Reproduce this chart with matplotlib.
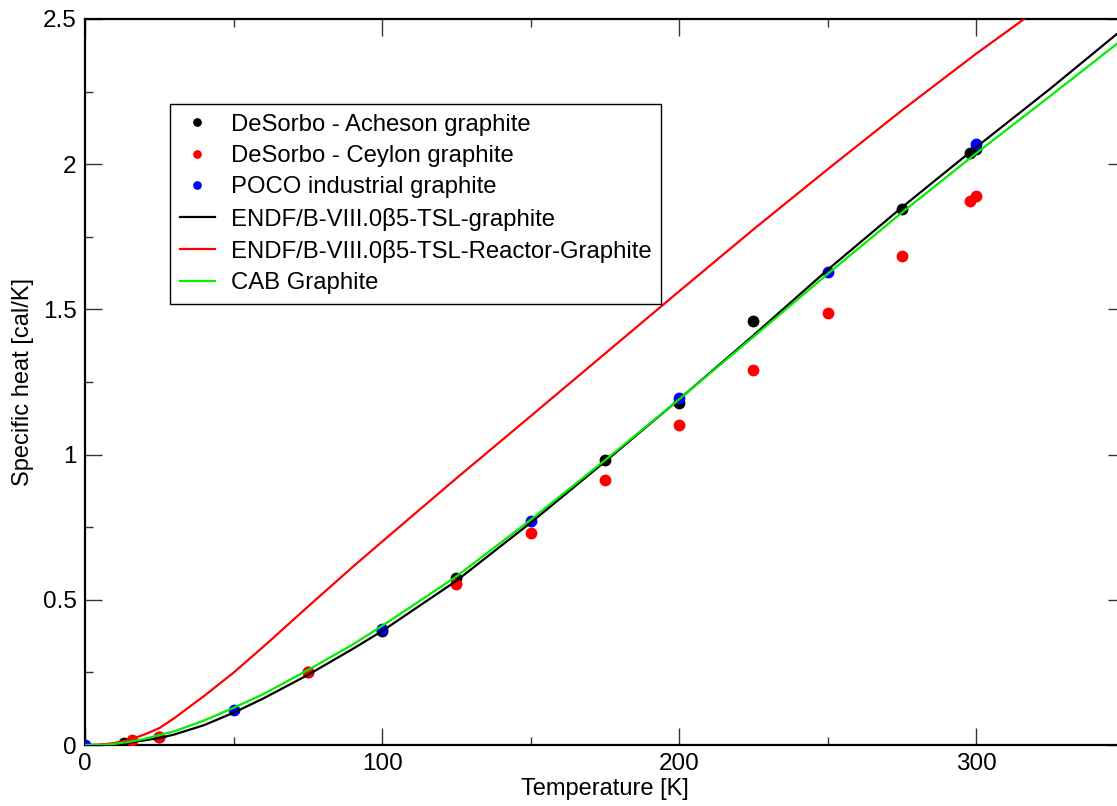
import numpy as np
import matplotlib
matplotlib.use('Agg')
import matplotlib.pyplot as plt
from matplotlib.ticker import MultipleLocator

plt.rcParams['font.family'] = ['Liberation Sans', 'DejaVu Sans']

# measured points
acheson_T = [13, 25, 75, 100, 125, 175, 200, 225, 275, 298, 300]
acheson_cp = [0.008, 0.026, 0.25, 0.394, 0.574, 0.981, 1.177, 1.461, 1.845, 2.040, 2.051]

ceylon_T = [15.7, 25, 75, 125, 150, 175, 200, 225, 250, 275, 298, 300]
ceylon_cp = [0.016, 0.028, 0.251, 0.554, 0.729, 0.912, 1.102, 1.291, 1.487, 1.684, 1.874, 1.889]

poco_T = [0, 50, 100, 150, 200, 250, 300]
poco_cp = [0.0, 0.12, 0.40, 0.772, 1.194, 1.629, 2.069]

# evaluated curves
curve_T = [0, 5, 10, 15, 20, 25, 30, 40, 50, 60, 75, 90, 100, 125, 150,
           175, 200, 225, 250, 275, 300, 325, 350]
endf_cp = [0.0, 0.0, 0.003, 0.009, 0.016, 0.024, 0.036, 0.068, 0.111, 0.16,
           0.241, 0.33, 0.392, 0.565, 0.765, 0.975, 1.19, 1.41, 1.636, 1.851,
           2.058, 2.26, 2.47]
reactor_cp = [0.0, 0.001, 0.007, 0.018, 0.036, 0.058, 0.092, 0.168, 0.249, 0.338,
              0.476, 0.612, 0.700, 0.918, 1.132, 1.347, 1.562, 1.775, 1.982, 2.185,
              2.38, 2.565, 2.74]
cab_cp = [0.0, 0.0, 0.004, 0.011, 0.021, 0.034, 0.047, 0.084, 0.128, 0.175,
          0.258, 0.345, 0.41, 0.58, 0.775, 0.98, 1.19, 1.405, 1.622, 1.833,
          2.037, 2.235, 2.435]

fig = plt.figure(figsize=(11.17, 8.06), dpi=100)
W, H = 1117, 806
ax = fig.add_axes([85 / W, (H - 745) / H, (1124.5 - 85) / W, (745 - 19) / H])

ms = 7.5
ax.plot(acheson_T, acheson_cp, 'o', color='black', ms=ms, mec='black', zorder=3,
        label='DeSorbo - Acheson graphite')
ax.plot(ceylon_T, ceylon_cp, 'o', color='red', ms=ms, mec='red', zorder=3,
        label='DeSorbo - Ceylon graphite')
ax.plot(poco_T, poco_cp, 'o', color='blue', ms=ms, mec='blue', zorder=3,
        label='POCO industrial graphite')
ax.plot(curve_T, endf_cp, '-', color='black', lw=1.6, zorder=4,
        label='ENDF/B-VIII.0\u03b25-TSL-graphite')
ax.plot(curve_T, reactor_cp, '-', color='red', lw=1.6, zorder=4,
        label='ENDF/B-VIII.0\u03b25-TSL-Reactor-Graphite')
ax.plot(curve_T, cab_cp, '-', color='#00ee00', lw=1.6, zorder=4,
        label='CAB Graphite')

ax.set_xlim(0, 350)
ax.set_ylim(0, 2.5)
ax.xaxis.set_major_locator(MultipleLocator(100))
ax.xaxis.set_minor_locator(MultipleLocator(50))
ax.yaxis.set_major_locator(MultipleLocator(0.5))
ax.yaxis.set_minor_locator(MultipleLocator(0.25))
ax.yaxis.set_major_formatter(plt.FuncFormatter(lambda v, p: f'{v:g}'))

ax.tick_params(which='both', direction='in', top=True, right=True,
               labelsize=17.5, width=1.0, color='#333333')
ax.tick_params(which='major', length=12, pad=6)
ax.tick_params(which='minor', length=6)
for s in ax.spines.values():
    s.set_linewidth(1.6)

ax.set_xlabel('Temperature [K]', fontsize=17, labelpad=2)
ax.set_ylabel('Specific heat [cal/K]', fontsize=17, labelpad=6)

leg = ax.legend(loc='upper left', bbox_to_anchor=(170 / W, 1 - 104 / H),
                bbox_transform=fig.transFigure, fontsize=17.2, frameon=True,
                fancybox=False, edgecolor='black', framealpha=1,
                handlelength=1.5, handletextpad=0.65, labelspacing=0.39,
                borderpad=0.4, borderaxespad=0, markerscale=0.7)
leg.get_frame().set_linewidth(1.0)

fig.savefig('out.png', dpi=100)
